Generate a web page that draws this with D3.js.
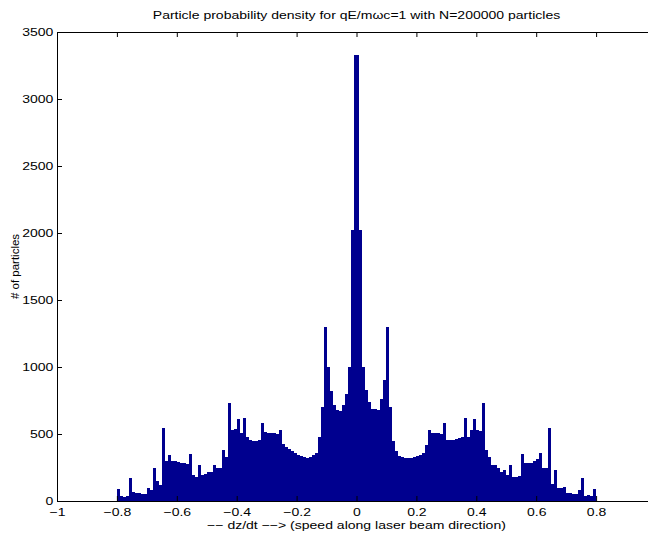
<!DOCTYPE html>
<html>
<head>
<meta charset="utf-8">
<script src="https://cdn.jsdelivr.net/npm/d3@7"></script>
<style>
  body { margin: 0; background: #fff; }
  #chart { width: 648px; height: 535px; overflow: hidden; }
  text { font-family: "Liberation Sans", Arial, Helvetica, sans-serif; fill: #000; }
</style>
</head>
<body>
<div id="chart"></div>
<script>
// histogram of dz/dt, 160 bins of width 0.01 starting at -0.8
const binStart = -0.8;
const binWidth = 0.01;
const counts = [
  90, 40, 32, 40, 170, 68, 62, 58, 52, 55,
  95, 85, 245, 150, 120, 545, 300, 340, 300, 295,
  290, 285, 280, 275, 350, 195, 180, 270, 195, 200,
  215, 215, 270, 245, 250, 380, 330, 730, 530, 540,
  610, 505, 620, 480, 455, 450, 450, 455, 580, 515,
  510, 510, 505, 500, 530, 425, 400, 385, 370, 355,
  345, 335, 328, 322, 325, 340, 360, 480, 700, 1300,
  1000, 820, 720, 680, 670, 720, 800, 1000, 2020, 3330,
  3330, 2020, 1000, 830, 740, 690, 690, 680, 760, 900,
  1300, 700, 450, 370, 335, 325, 320, 320, 322, 328,
  335, 345, 360, 420, 530, 505, 505, 505, 500, 580,
  455, 455, 455, 465, 470, 475, 620, 480, 530, 610,
  530, 520, 730, 380, 330, 270, 270, 250, 215, 230,
  195, 270, 180, 180, 190, 350, 285, 285, 285, 295,
  310, 360, 245, 245, 545, 125, 230, 100, 95, 105,
  62, 58, 55, 55, 80, 170, 40, 45, 35, 90
];
const xTicks = [-1, -0.8, -0.6, -0.4, -0.2, 0, 0.2, 0.4, 0.6, 0.8];
const yTicks = [0, 500, 1000, 1500, 2000, 2500, 3000, 3500];
const titleText = "Particle probability density for qE/m\u03c9c=1 with N=200000 particles";
const xLabelText = "\u2212\u2212 dz/dt \u2212\u2212> (speed along laser beam direction)";
const yLabelText = "# of particles";

const width = 648;
const height = 535;
// axes box runs past the right edge of the picture (x up to 1)
const margin = {top: 32, left: 57, right: -8, bottom: 34};
// the reference text is wide for its height
const fontSize = 11.5;
const stretch = "scale(1.22,1)";

const svg = d3.select("#chart")
    .append("svg")
    .attr("width", width)
    .attr("height", height);

const x = d3.scaleLinear()
    .domain([-1, 1])
    .range([margin.left, width - margin.right]);

const y = d3.scaleLinear()
    .domain([0, 3500])
    .range([height - margin.bottom, margin.top]);

const bins = counts.map((c, i) => ({x0: binStart + i * binWidth, x1: binStart + (i + 1) * binWidth, n: c}));

// bars
svg.append("g")
    .attr("id", "plot")
    .attr("shape-rendering", "crispEdges")
    .selectAll("rect")
    .data(bins)
    .enter()
    .append("rect")
    .attr("x", d => x(d.x0))
    .attr("width", d => x(d.x1) - x(d.x0))
    .attr("y", d => y(d.n))
    .attr("height", d => y(0) - y(d.n))
    .attr("fill", "#00008f");

// axes, ticks pointing inward like matlab
const fmt = d => d3.format("")(d).replace("-", "\u2212");

svg.append("g")
    .attr("class", "xAxis")
    .attr("transform", "translate(0," + y(0) + ")")
    .call(d3.axisBottom(x).tickValues(xTicks).tickSize(-5).tickSizeOuter(0).tickPadding(7).tickFormat(fmt));

svg.append("g")
    .attr("class", "xAxisTop")
    .attr("transform", "translate(0," + y(3500) + ")")
    .call(d3.axisTop(x).tickValues(xTicks).tickSize(-5).tickSizeOuter(0).tickFormat(""));

svg.append("g")
    .attr("class", "yAxis")
    .attr("transform", "translate(" + x(-1) + ",0)")
    .call(d3.axisLeft(y).tickValues(yTicks).tickSize(-5).tickSizeOuter(0).tickPadding(3).tickFormat(fmt));

svg.selectAll(".xAxis, .xAxisTop, .yAxis")
    .selectAll("path, line")
    .attr("stroke", "#000")
    .attr("stroke-width", 1);

svg.selectAll(".xAxis text, .yAxis text")
    .attr("font-size", fontSize)
    .attr("font-family", "Liberation Sans, Arial, sans-serif")
    .attr("transform", stretch);

// labels
svg.append("text")
    .attr("transform", "translate(" + (x(-1) + x(1)) / 2 + ",19) " + stretch)
    .attr("text-anchor", "middle")
    .attr("font-size", fontSize)
    .text(titleText);

svg.append("text")
    .attr("transform", "translate(" + (x(-1) + x(1)) / 2 + ",529) " + stretch)
    .attr("text-anchor", "middle")
    .attr("font-size", fontSize)
    .text(xLabelText);

svg.append("text")
    .attr("transform", "translate(19," + (y(0) + y(3500)) / 2 + ") rotate(-90)")
    .attr("text-anchor", "middle")
    .attr("font-size", fontSize)
    .text(yLabelText);
</script>
</body>
</html>
